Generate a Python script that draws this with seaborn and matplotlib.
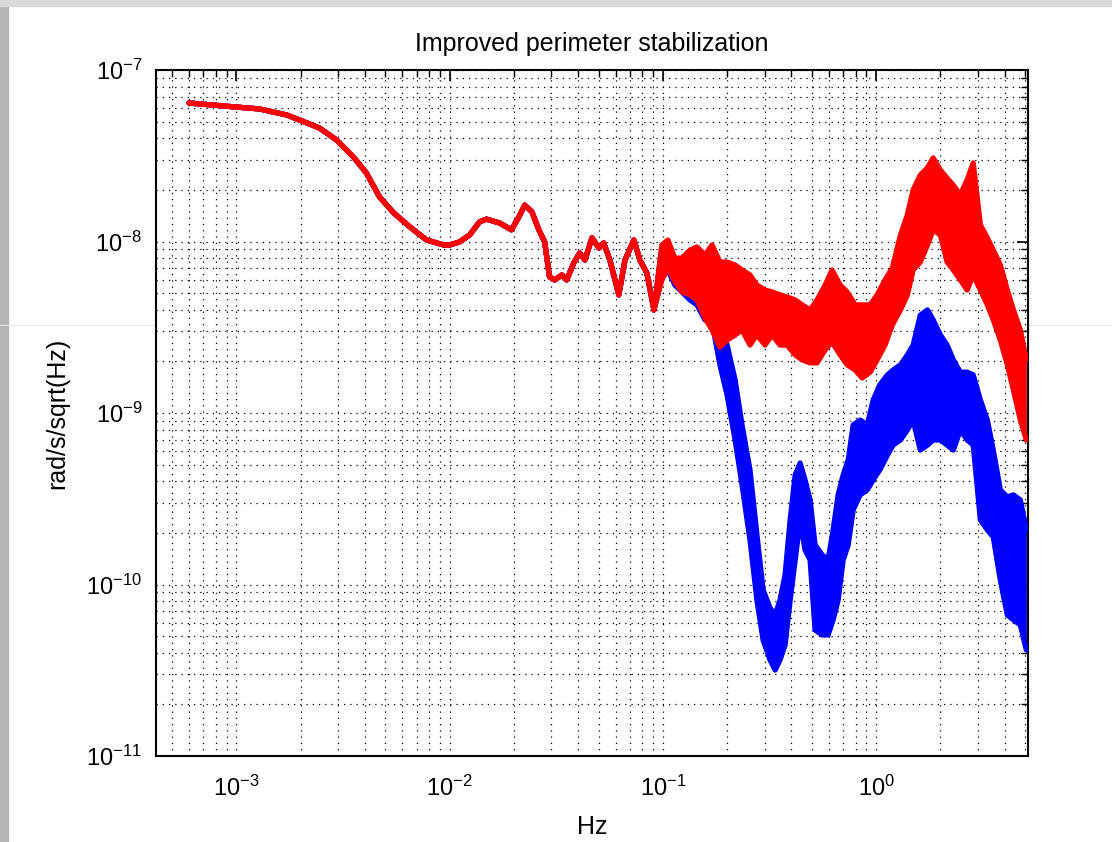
import numpy as np
import pandas as pd
import matplotlib.pyplot as plt
import seaborn as sns
from matplotlib.patches import Rectangle
from matplotlib.lines import Line2D
from matplotlib.ticker import LogLocator, NullFormatter

# Low-frequency part, shared by both traces (blue sits under red here)
low_freq = [6.0e-4, 1.0e-3, 1.28e-3, 1.72e-3, 1.98e-3, 2.45e-3, 2.95e-3, 3.54e-3,
            4.07e-3, 4.69e-3, 5.46e-3, 6.49e-3, 7.8e-3, 9.4e-3, 1.0e-2, 1.11e-2,
            1.24e-2, 1.38e-2, 1.49e-2, 1.72e-2, 1.95e-2, 2.11e-2, 2.25e-2, 2.43e-2,
            2.62e-2, 2.79e-2, 2.94e-2, 3.11e-2, 3.36e-2, 3.54e-2, 3.82e-2, 4.07e-2,
            4.31e-2, 4.65e-2, 5.01e-2, 5.28e-2, 5.64e-2, 6.21e-2, 6.64e-2, 7.31e-2,
            7.80e-2, 8.41e-2, 9.08e-2]
low_val = [6.42e-8, 6.08e-8, 5.93e-8, 5.47e-8, 5.11e-8, 4.59e-8, 3.91e-8, 3.11e-8,
           2.51e-8, 1.82e-8, 1.47e-8, 1.22e-8, 1.02e-8, 9.54e-9, 9.54e-9, 9.93e-9,
           1.09e-8, 1.30e-8, 1.35e-8, 1.28e-8, 1.17e-8, 1.39e-8, 1.63e-8, 1.49e-8,
           1.17e-8, 9.93e-9, 6.21e-9, 5.97e-9, 6.38e-9, 5.97e-9, 7.50e-9, 8.57e-9,
           7.80e-9, 1.05e-8, 9.17e-9, 9.80e-9, 7.80e-9, 4.88e-9, 7.80e-9, 1.02e-8,
           7.80e-9, 6.55e-9, 3.99e-9]

# High-frequency part: noisy traces kept as lower / upper envelopes
red_hf_freq = [0.0989, 0.1055, 0.1138, 0.1228, 0.134, 0.1445, 0.1574, 0.170, 0.185,
               0.200, 0.218, 0.235, 0.256, 0.276, 0.301, 0.325, 0.354, 0.382, 0.417,
               0.450, 0.490, 0.528, 0.576, 0.621, 0.678, 0.731, 0.797, 0.860, 0.937,
               1.01, 1.10, 1.19, 1.30, 1.40, 1.49, 1.61, 1.74, 1.85, 2.00, 2.15, 2.30,
               2.48, 2.67, 2.85, 3.08, 3.32, 3.54, 3.82, 4.12, 4.40, 4.74, 5.06]
red_hf_hi = [9.54e-9, 1.02e-8, 8.0e-9, 8.0e-9, 8.91e-9, 9.29e-9, 8.34e-9, 9.54e-9, 7.59e-9,
             7.59e-9, 7.29e-9, 6.82e-9, 6.38e-9, 5.57e-9, 5.21e-9, 5.08e-9, 4.88e-9, 4.75e-9,
             4.56e-9, 4.27e-9, 3.99e-9, 4.56e-9, 5.57e-9, 6.82e-9, 5.57e-9, 5.08e-9, 4.27e-9,
             4.27e-9, 4.27e-9, 4.88e-9, 5.97e-9, 7.0e-9, 1.09e-8, 1.43e-8, 2.0e-8, 2.44e-8,
             2.69e-8, 3.07e-8, 2.61e-8, 2.34e-8, 2.13e-8, 1.87e-8, 2.29e-8, 2.87e-8,
             1.25e-8, 1.05e-8, 8.91e-9, 7.29e-9, 5.21e-9, 3.99e-9, 3.05e-9, 2.04e-9]
red_hf_lo = [5.97e-9, 7.0e-9, 5.81e-9, 5.08e-9, 4.88e-9, 4.56e-9, 3.58e-9, 3.05e-9, 2.42e-9,
             2.66e-9, 2.85e-9, 3.05e-9, 2.49e-9, 2.85e-9, 2.49e-9, 2.85e-9, 2.49e-9, 2.49e-9,
             2.18e-9, 2.04e-9, 1.96e-9, 1.96e-9, 2.33e-9, 2.59e-9, 2.18e-9, 1.91e-9, 1.78e-9,
             1.60e-9, 1.73e-9, 2.04e-9, 2.49e-9, 3.26e-9, 3.99e-9, 4.88e-9, 6.82e-9, 7.59e-9,
             9.54e-9, 1.17e-8, 1.09e-8, 7.59e-9, 6.82e-9, 5.97e-9, 5.21e-9, 6.38e-9,
             5.21e-9, 4.27e-9, 3.49e-9, 2.66e-9, 1.91e-9, 1.36e-9, 9.1e-10, 6.96e-10]

blue_hf_freq = [0.0989, 0.1055, 0.1138, 0.1228, 0.134, 0.1445, 0.1574, 0.170, 0.185,
                0.200, 0.218, 0.235, 0.256, 0.276, 0.295, 0.318, 0.336, 0.354, 0.374,
                0.395, 0.417, 0.440, 0.464, 0.490, 0.517, 0.558, 0.595, 0.628, 0.663,
                0.700, 0.739, 0.780, 0.841, 0.908, 0.968, 1.04, 1.13, 1.20, 1.30, 1.40,
                1.49, 1.61, 1.74, 1.85, 2.00, 2.15, 2.30, 2.48, 2.67, 2.85, 3.08, 3.32,
                3.54, 3.82, 4.12, 4.40, 4.74, 5.06]
blue_hf_hi = [9.17e-9, 9.54e-9, 7.80e-9, 7.59e-9, 8.0e-9, 7.59e-9, 5.43e-9, 5.21e-9, 3.35e-9,
              2.49e-9, 1.56e-9, 8.51e-10, 4.66e-10, 1.95e-10, 9.3e-11, 7.3e-11, 6.64e-11,
              8.1e-11, 1.14e-10, 2.38e-10, 4.35e-10, 5.11e-10, 4.07e-10, 3.11e-10, 1.70e-10,
              1.49e-10, 1.39e-10, 2.08e-10, 3.33e-10, 4.35e-10, 5.32e-10, 8.51e-10, 9.1e-10,
              8.51e-10, 1.19e-9, 1.46e-9, 1.67e-9, 1.78e-9, 1.91e-9, 2.18e-9, 2.49e-9,
              3.72e-9, 3.99e-9, 3.49e-9, 2.85e-9, 2.49e-9, 2.04e-9, 1.73e-9, 1.73e-9,
              1.67e-9, 1.19e-9, 9.1e-10, 6.08e-10, 3.56e-10, 3.24e-10, 3.33e-10, 3.11e-10,
              2.08e-10]
blue_hf_lo = [6.12e-9, 6.82e-9, 5.57e-9, 5.08e-9, 4.56e-9, 4.27e-9, 3.49e-9, 3.40e-9, 1.91e-9,
              1.27e-9, 6.96e-10, 3.80e-10, 1.82e-10, 8.1e-11, 4.74e-11, 3.63e-11, 3.17e-11,
              3.63e-11, 4.44e-11, 8.1e-11, 1.39e-10, 2.38e-10, 1.59e-10, 1.39e-10, 5.43e-11,
              5.08e-11, 5.08e-11, 6.21e-11, 8.1e-11, 1.39e-10, 1.70e-10, 2.72e-10, 3.33e-10,
              3.56e-10, 4.07e-10, 4.66e-10, 5.69e-10, 6.50e-10, 6.96e-10, 7.96e-10, 9.1e-10,
              6.08e-10, 6.50e-10, 6.96e-10, 6.96e-10, 6.50e-10, 6.08e-10, 7.96e-10, 6.96e-10,
              6.50e-10, 2.38e-10, 2.08e-10, 1.89e-10, 1.06e-10, 6.64e-11, 6.21e-11, 5.81e-11,
              4.15e-11]

x_ticks = [1e-3, 1e-2, 1e-1, 1e0]
y_ticks = [1e-11, 1e-10, 1e-9, 1e-8, 1e-7]

traces = {
    'blue': (blue_hf_freq, blue_hf_lo, blue_hf_hi, '#0000ff'),
    'red': (red_hf_freq, red_hf_lo, red_hf_hi, '#ff0000'),
}

sns.set_style('white')
plt.rcParams['font.family'] = ['Liberation Sans', 'DejaVu Sans']
plt.rcParams['mathtext.default'] = 'regular'
plt.rcParams['text.color'] = 'black'
plt.rcParams['axes.labelcolor'] = 'black'

fig = plt.figure(figsize=(11.12, 8.42), dpi=100)
fig.patch.set_facecolor('white')
# slide frame of the screenshot
fig.add_artist(Rectangle((0, 0), 8 / 1112, 1, transform=fig.transFigure,
                         color='#b4b4b4', zorder=0))
fig.add_artist(Rectangle((0, 1 - 6 / 842), 1, 6 / 842, transform=fig.transFigure,
                         color='#d9d9d9', zorder=0))
fig.add_artist(Line2D([0, 1], [1 - 325 / 842] * 2, transform=fig.transFigure,
                      color='#e6e6e6', lw=0.8, zorder=0))

ax = fig.add_axes([156 / 1112, 1 - 756 / 842, 872 / 1112, 686 / 842])

for name in ['blue', 'red']:
    hf_f, hf_lo, hf_hi, color = traces[name]
    df = pd.DataFrame({
        'freq': low_freq + hf_f,
        'lo': low_val + hf_lo,
        'hi': low_val + hf_hi,
    })
    ax.fill_between(df['freq'], df['lo'], df['hi'], color=color, lw=0, zorder=3)
    sns.lineplot(data=df, x='freq', y='lo', color=color, lw=3.8, ax=ax,
                 sort=False, zorder=3)
    sns.lineplot(data=df, x='freq', y='hi', color=color, lw=3.8, ax=ax,
                 sort=False, zorder=3)

ax.set_xscale('log')
ax.set_yscale('log')
ax.set_xlim(4.2e-4, 5.15)
ax.set_ylim(1e-11, 1e-7)
ax.set_xticks(x_ticks)
ax.set_yticks(y_ticks)
ax.xaxis.set_minor_locator(LogLocator(base=10, subs=np.arange(2, 10), numticks=20))
ax.yaxis.set_minor_locator(LogLocator(base=10, subs=np.arange(2, 10), numticks=20))
ax.xaxis.set_minor_formatter(NullFormatter())
ax.yaxis.set_minor_formatter(NullFormatter())

ax.set_axisbelow(True)
ax.grid(True, which='both', color='black', linestyle=(0, (1, 4)), linewidth=0.9)
ax.tick_params(which='both', direction='in', top=True, right=True,
               labelsize=17, colors='black')
ax.tick_params(which='major', length=8, width=1.2, pad=10)
ax.tick_params(axis='x', which='major', pad=14)
ax.tick_params(which='minor', length=5, width=1.0)
for sp in ax.spines.values():
    sp.set_visible(True)
    sp.set_color('black')
    sp.set_linewidth(1.5)

ax.set_title('Improved perimeter stabilization', fontsize=18, pad=14)
ax.set_xlabel('Hz', fontsize=18, labelpad=10)
ax.set_ylabel('rad/s/sqrt(Hz)', fontsize=18, labelpad=12)

plt.savefig('out.png', dpi=100)
